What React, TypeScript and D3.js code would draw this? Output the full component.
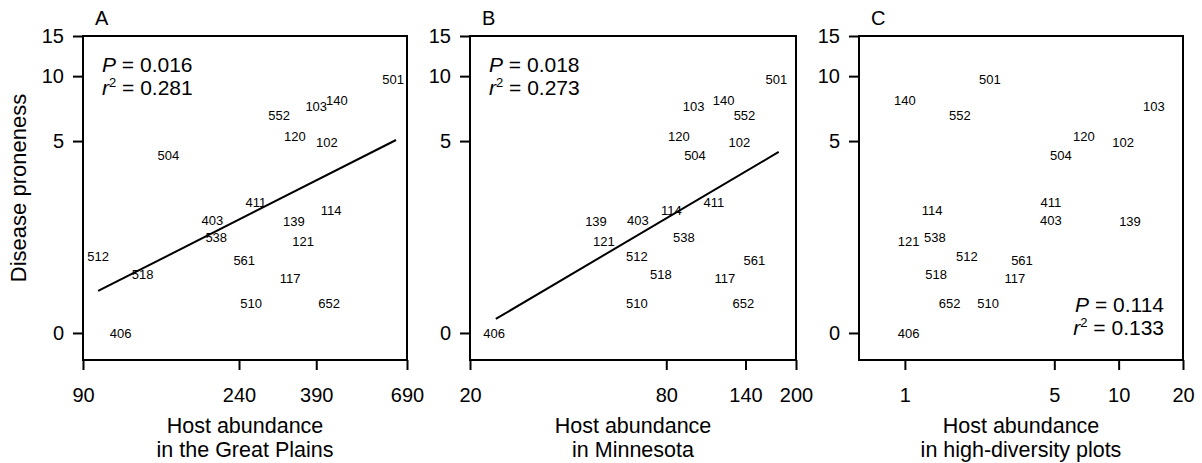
import { useEffect, useRef } from 'react'
import * as d3 from 'd3'

// species codes, shared by all three panels
const species = ['501', '552', '103', '140', '120', '102', '504', '411', '114', '403', '139', '538', '121', '512', '561', '518', '117', '510', '652', '406']
const proneness = [9.7, 6.65, 7.25, 7.73, 5.29, 4.95, 4.27, 2.37, 2.15, 1.87, 1.82, 1.45, 1.36, 1.05, 0.96, 0.72, 0.66, 0.32, 0.32, 0]

const abundanceGreatPlains = [632, 309, 390, 444, 341, 417, 154, 267, 428, 203, 339, 208, 359, 99, 248, 131, 331, 259, 423, 114]
const abundanceMinnesota = [174, 139, 97, 120, 87.5, 134, 98, 112, 83, 65.5, 48.7, 90.6, 51.5, 65, 149, 77, 121, 65, 138, 23.7]
const abundanceHighDiversity = [2.5, 1.81, 14.6, 1.0, 6.88, 10.5, 5.37, 4.82, 1.34, 4.82, 11.3, 1.38, 1.04, 1.95, 3.53, 1.4, 3.27, 2.45, 1.62, 1.04]

const fitGreatPlains: [number, number][] = [[99, 0.48], [644, 5.06]]
const fitMinnesota: [number, number][] = [[24, 0.14], [177, 4.42]]

const yTicks = [0, 5, 10, 15]
const xTicksA = [90, 240, 390, 690]
const xTicksB = [20, 80, 140, 200]
const xTicksC = [1, 5, 10, 20]

const statsA = ['0.016', '0.281']
const statsB = ['0.018', '0.273']
const statsC = ['0.114', '0.133']

const FONT = '"Liberation Sans", Arial, Helvetica, sans-serif'

export default function App() {
  const ref = useRef<SVGSVGElement>(null)

  useEffect(() => {
    const el = ref.current
    if (!el) return
    const svg = d3.select(el)
    svg.selectAll('*').remove()

    const top = 36
    const bottom = 360
    // proneness is plotted as log(y + 1)
    const yLog = d3.scaleLog().domain([0.777, 16]).range([bottom, top])
    const y = (v: number) => yLog(v + 1)

    const panels = [
      { letter: 'A', left: 83, right: 407, domain: [90, 690], xs: abundanceGreatPlains, ticks: xTicksA, fit: fitGreatPlains, stats: statsA, title: ['Host abundance', 'in the Great Plains'], statPos: 'tl' },
      { letter: 'B', left: 470, right: 796, domain: [20, 200], xs: abundanceMinnesota, ticks: xTicksB, fit: fitMinnesota, stats: statsB, title: ['Host abundance', 'in Minnesota'], statPos: 'tl' },
      { letter: 'C', left: 859, right: 1183, domain: [0.61, 20], xs: abundanceHighDiversity, ticks: xTicksC, fit: null, stats: statsC, title: ['Host abundance', 'in high-diversity plots'], statPos: 'br' },
    ]

    panels.forEach((p) => {
      const x = d3.scaleLog().domain(p.domain).range([p.left, p.right])
      const g = svg.append('g').attr('font-family', FONT)

      // y axis
      const ya = g
        .append('g')
        .attr('transform', `translate(${p.left},0)`)
        .call(
          d3
            .axisLeft(yLog)
            .tickValues(yTicks.map((d) => d + 1))
            .tickFormat((d) => String(Number(d) - 1))
            .tickSize(10)
            .tickSizeOuter(0)
            .tickPadding(9)
        )
      ya.select('.domain').remove()
      ya.selectAll('.tick line').attr('stroke', '#000').attr('stroke-width', 2)
      ya.selectAll('text').attr('fill', '#000').attr('font-size', 20).attr('font-family', FONT)

      // x axis
      const xa = g
        .append('g')
        .attr('transform', `translate(0,${bottom})`)
        .call(
          d3
            .axisBottom(x)
            .tickValues(p.ticks)
            .tickFormat((d) => String(d))
            .tickSize(10)
            .tickSizeOuter(0)
            .tickPadding(18)
        )
      xa.select('.domain').remove()
      xa.selectAll('.tick line').attr('stroke', '#000').attr('stroke-width', 2)
      xa.selectAll('text').attr('fill', '#000').attr('font-size', 20).attr('font-family', FONT)

      // frame
      g.append('rect')
        .attr('x', p.left)
        .attr('y', top)
        .attr('width', p.right - p.left)
        .attr('height', bottom - top)
        .attr('fill', 'none')
        .attr('stroke', '#000')
        .attr('stroke-width', 2)

      // regression line
      if (p.fit) {
        g.append('path')
          .datum(p.fit)
          .attr('d', d3.line<[number, number]>().x((d) => x(d[0])).y((d) => y(d[1])))
          .attr('fill', 'none')
          .attr('stroke', '#000')
          .attr('stroke-width', 2)
      }

      // species labels as markers
      g.selectAll('text.sp')
        .data(species)
        .join('text')
        .attr('class', 'sp')
        .attr('x', (_, i) => x(p.xs[i]))
        .attr('y', (_, i) => y(proneness[i]))
        .attr('dy', '0.35em')
        .attr('text-anchor', 'middle')
        .attr('font-size', 13)
        .attr('fill', '#000')
        .text((d) => d)

      // panel letter
      g.append('text')
        .attr('x', p.left + 12)
        .attr('y', 25)
        .attr('font-size', 20)
        .text(p.letter)

      // stats
      const tl = p.statPos === 'tl'
      const sx = tl ? p.left + 19 : p.right - 19
      const sy = tl ? 72 : 312
      const anchor = tl ? 'start' : 'end'
      const t1 = g.append('text').attr('x', sx).attr('y', sy).attr('font-size', 21).attr('text-anchor', anchor)
      t1.append('tspan').attr('font-style', 'italic').text('P')
      t1.append('tspan').text(` = ${p.stats[0]}`)
      const t2 = g.append('text').attr('x', sx).attr('y', sy + 23).attr('font-size', 21).attr('text-anchor', anchor)
      t2.append('tspan').attr('font-style', 'italic').text('r')
      t2.append('tspan').attr('font-size', 13).attr('dy', -8).text('2')
      t2.append('tspan').attr('dy', 8).text(` = ${p.stats[1]}`)

      // x title
      const cx = (p.left + p.right) / 2
      p.title.forEach((line, i) => {
        g.append('text')
          .attr('x', cx)
          .attr('y', 433 + i * 24)
          .attr('text-anchor', 'middle')
          .attr('font-size', 21.5)
          .text(line)
      })
    })

    // y title
    svg
      .append('text')
      .attr('transform', 'translate(26,188) rotate(-90)')
      .attr('text-anchor', 'middle')
      .attr('font-family', FONT)
      .attr('font-size', 22)
      .text('Disease proneness')
  }, [])

  return (
    <svg
      ref={ref}
      width={1202}
      height={463}
      style={{ position: 'absolute', left: 0, top: 0, background: '#fff' }}
    />
  )
}
